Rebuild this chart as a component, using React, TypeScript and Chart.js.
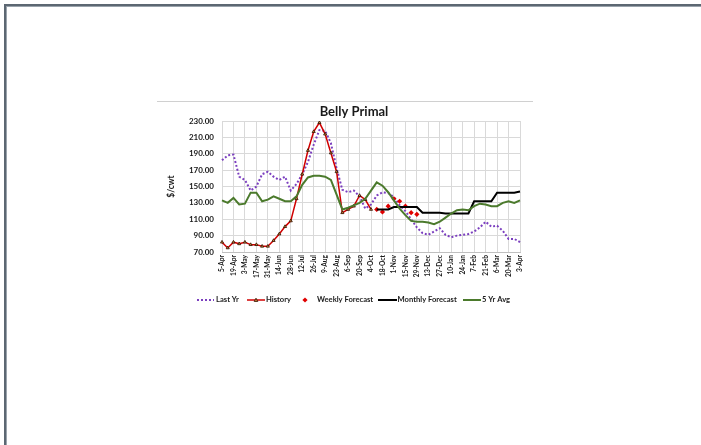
import React, { useEffect, useRef } from "react";
import { Chart, registerables } from "chart.js";

Chart.register(...registerables);

const weeks = [
  "5-Apr", "12-Apr", "19-Apr", "26-Apr", "3-May", "10-May", "17-May", "24-May", "31-May",
  "7-Jun", "14-Jun", "21-Jun", "28-Jun", "5-Jul", "12-Jul", "19-Jul", "26-Jul",
  "2-Aug", "9-Aug", "16-Aug", "23-Aug", "30-Aug", "6-Sep", "13-Sep", "20-Sep", "27-Sep",
  "4-Oct", "11-Oct", "18-Oct", "25-Oct", "1-Nov", "8-Nov", "15-Nov", "22-Nov", "29-Nov",
  "6-Dec", "13-Dec", "20-Dec", "27-Dec", "3-Jan", "10-Jan", "17-Jan", "24-Jan", "31-Jan",
  "7-Feb", "14-Feb", "21-Feb", "28-Feb", "6-Mar", "13-Mar", "20-Mar", "27-Mar", "3-Apr",
];

const lastYr = [
  182, 188, 189, 162, 158, 145, 150, 165, 168, 162,
  158, 162, 145, 153, 165, 180, 201, 219, 218, 203,
  172, 146, 143, 145, 138, 123, 128, 139, 143, 142,
  137, 127, 120, 110, 100, 93, 91, 95, 99, 91,
  88, 90, 91, 92, 95, 100, 107, 101, 102, 96,
  86, 86, 82,
];

const N = null;
const history = [
  82, 75, 82, 80, 82, 79, 79, 77, 77, 84,
  92, 101, 108, 135, 165, 194, 217, 228, 214, 191,
  168, 118, 122, 126, 139, 134, 122,
  N, N, N, N, N, N, N, N, N, N, N, N, N, N, N, N, N, N, N, N, N, N, N, N, N, N,
];

const weeklyForecast = [
  N, N, N, N, N, N, N, N, N, N, N, N, N, N, N, N, N, N, N, N, N, N, N, N, N, N, N,
  122, 119, 126, 135, 132, 126, 118, 116,
  N, N, N, N, N, N, N, N, N, N, N, N, N, N, N, N, N, N,
];

const monthlyForecast = [
  N, N, N, N, N, N, N, N, N, N, N, N, N, N, N, N, N, N, N, N, N, N, N, N, N, N, N,
  122, 122, 122,
  125, 125, 125, 125, 125,
  118, 118, 118, 118,
  117, 117, 117, 117, 117,
  132, 132, 132, 132,
  142.5, 142.5, 142.5, 142.5,
  144,
];

const fiveYrAvg = [
  133, 130, 136, 128, 129, 142.5, 142.5, 132, 134, 138,
  135, 132, 132, 138, 152, 161, 163, 163, 162, 158,
  140, 122, 124, 127, 130, 135, 145, 155, 151, 143,
  133, 123, 115, 108, 107, 107, 106, 104, 107, 112,
  117, 121, 122, 121, 126, 129, 128, 126, 126, 130,
  132, 130, 133,
];

const yTicks = { min: 70, max: 230, step: 20 };
const chartTitle = "Belly Primal";
const yTitle = "$/cwt";
const seriesNames = ["Last Yr", "History", "Weekly Forecast", "Monthly Forecast", "5 Yr Avg"];

const PURPLE = "#7b3fbf";
const RED = "#d00000";
const DIAMOND = "#e00000";
const BLACK = "#000000";
const GREEN = "#4b7a2c";
const FONT = "Lato";
const TEXT = "#1a1a1a";

function drawTriangle(ctx: CanvasRenderingContext2D, x: number, y: number, r: number) {
  ctx.beginPath();
  ctx.moveTo(x, y - r);
  ctx.lineTo(x + r, y + r * 0.8);
  ctx.lineTo(x - r, y + r * 0.8);
  ctx.closePath();
  ctx.fillStyle = "#d58a3a";
  ctx.fill();
  ctx.strokeStyle = "#2b1000";
  ctx.lineWidth = 0.8;
  ctx.stroke();
}

const decorPlugin = {
  id: "decor",
  beforeDraw(chart: any) {
    const ctx = chart.ctx as CanvasRenderingContext2D;
    ctx.save();
    ctx.strokeStyle = "#d0d0d0";
    ctx.lineWidth = 1;
    ctx.beginPath();
    ctx.moveTo(157, 101.5);
    ctx.lineTo(533, 101.5);
    ctx.stroke();
    ctx.restore();
  },
  afterDraw(chart: any) {
    const ctx = chart.ctx as CanvasRenderingContext2D;
    ctx.save();
    ctx.fillStyle = TEXT;
    ctx.font = `bold 13px ${FONT}`;
    ctx.textAlign = "center";
    ctx.textBaseline = "alphabetic";
    ctx.fillText(chartTitle, 354, 116);

    const ly = 300;
    ctx.font = `bold 7.6px ${FONT}`;
    ctx.textAlign = "left";
    ctx.textBaseline = "middle";
    ctx.strokeStyle = PURPLE;
    ctx.lineWidth = 2;
    ctx.setLineDash([2, 2]);
    ctx.beginPath();
    ctx.moveTo(197, ly);
    ctx.lineTo(214, ly);
    ctx.stroke();
    ctx.setLineDash([]);
    ctx.fillStyle = TEXT;
    ctx.fillText(seriesNames[0], 216, ly);

    ctx.strokeStyle = RED;
    ctx.lineWidth = 1.5;
    ctx.beginPath();
    ctx.moveTo(247, ly);
    ctx.lineTo(265, ly);
    ctx.stroke();
    drawTriangle(ctx, 256, ly, 1.8);
    ctx.fillStyle = TEXT;
    ctx.fillText(seriesNames[1], 266, ly);

    ctx.fillStyle = DIAMOND;
    ctx.beginPath();
    ctx.moveTo(305, ly - 2.6);
    ctx.lineTo(307.6, ly);
    ctx.lineTo(305, ly + 2.6);
    ctx.lineTo(302.4, ly);
    ctx.closePath();
    ctx.fill();
    ctx.fillStyle = TEXT;
    ctx.fillText(seriesNames[2], 317, ly);

    ctx.strokeStyle = BLACK;
    ctx.lineWidth = 2;
    ctx.beginPath();
    ctx.moveTo(378, ly);
    ctx.lineTo(397, ly);
    ctx.stroke();
    ctx.fillStyle = TEXT;
    ctx.fillText(seriesNames[3], 397.5, ly);

    ctx.strokeStyle = GREEN;
    ctx.beginPath();
    ctx.moveTo(463, ly);
    ctx.lineTo(481, ly);
    ctx.stroke();
    ctx.fillStyle = TEXT;
    ctx.fillText(seriesNames[4], 482, ly);
    ctx.restore();
  },
};

export default function App() {
  const ref = useRef<HTMLCanvasElement | null>(null);

  useEffect(() => {
    const canvas = ref.current;
    if (!canvas) return;
    const chart = new Chart(canvas, {
      type: "line",
      data: {
        labels: weeks,
        datasets: [
          {
            label: seriesNames[0],
            data: lastYr,
            borderColor: PURPLE,
            borderWidth: 2,
            borderDash: [2, 2],
            pointRadius: 0,
            order: 5,
          },
          {
            label: seriesNames[1],
            data: history,
            borderColor: RED,
            borderWidth: 1.5,
            pointStyle: "triangle",
            pointRadius: 1.8,
            pointBackgroundColor: "#d58a3a",
            pointBorderColor: "#2b1000",
            pointBorderWidth: 0.8,
            spanGaps: false,
            order: 4,
          },
          {
            label: seriesNames[2],
            data: weeklyForecast,
            showLine: false,
            pointStyle: "rectRot",
            pointRadius: 2.6,
            pointBackgroundColor: DIAMOND,
            pointBorderColor: DIAMOND,
            pointBorderWidth: 0,
            borderColor: DIAMOND,
            order: 3,
          },
          {
            label: seriesNames[3],
            data: monthlyForecast,
            borderColor: BLACK,
            borderWidth: 2,
            pointRadius: 0,
            order: 2,
          },
          {
            label: seriesNames[4],
            data: fiveYrAvg,
            borderColor: GREEN,
            borderWidth: 2,
            pointRadius: 0,
            order: 1,
          },
        ],
      },
      options: {
        animation: false,
        responsive: false,
        devicePixelRatio: 1,
        layout: { padding: { left: 166, right: 181, top: 121, bottom: 153 } },
        plugins: {
          legend: { display: false },
          title: { display: false },
          tooltip: { enabled: false },
        },
        elements: { line: { tension: 0 } },
        scales: {
          x: {
            type: "category",
            offset: false,
            afterFit: (scale: any) => {
              scale.height = 40;
            },
            grid: {
              drawTicks: false,
              color: (ctx: any) => (ctx.index % 2 === 0 ? "#d9d9d9" : "rgba(0,0,0,0)"),
              lineWidth: 1,
            },
            border: { display: true, color: "#bfbfbf", width: 1 },
            ticks: {
              autoSkip: false,
              maxRotation: 90,
              minRotation: 90,
              padding: 3,
              color: TEXT,
              font: { family: FONT, size: 6.6, weight: "bold" },
              callback: (_v: any, i: number) => (i % 2 === 0 ? weeks[i] : ""),
            },
          },
          y: {
            min: yTicks.min,
            max: yTicks.max,
            afterFit: (scale: any) => {
              scale.width = 56;
            },
            grid: { drawTicks: false, color: "#d9d9d9", lineWidth: 1 },
            border: { display: false },
            title: {
              display: true,
              text: yTitle,
              color: TEXT,
              padding: 0,
              font: { family: FONT, size: 8.5, weight: "bold" },
            },
            ticks: {
              stepSize: yTicks.step,
              padding: 8,
              color: TEXT,
              font: { family: FONT, size: 8, weight: "bold" },
              callback: (v: any) => Number(v).toFixed(2),
            },
          },
        },
      },
      plugins: [decorPlugin],
    });
    return () => chart.destroy();
  }, []);

  return (
    <div
      style={{
        position: "fixed",
        left: 0,
        top: 0,
        width: 701,
        height: 445,
        overflow: "hidden",
        background: "#ffffff",
      }}
    >
      <div
        style={{
          position: "absolute",
          left: 4,
          top: 4,
          width: 760,
          height: 500,
          borderTop: "2px solid #5c6772",
          borderLeft: "2px solid #5c6772",
        }}
      >
        <div
          style={{
            position: "absolute",
            left: 0,
            top: 0,
            width: 760,
            height: 500,
            borderTop: "1px solid #9aa3ac",
            borderLeft: "1px solid #9aa3ac",
          }}
        />
      </div>
      <canvas
        ref={ref}
        width={701}
        height={445}
        style={{ position: "absolute", left: 0, top: 0 }}
      />
    </div>
  );
}
